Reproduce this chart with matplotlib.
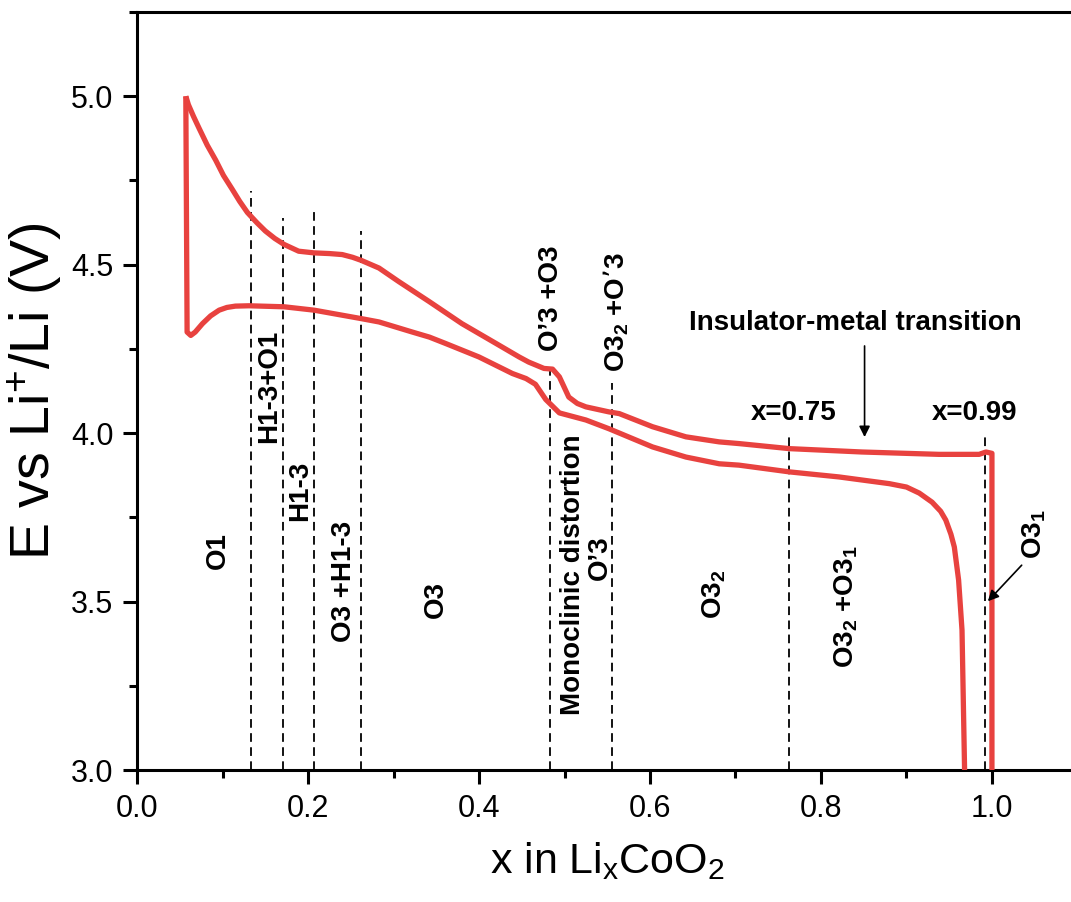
import matplotlib
matplotlib.use("Agg")
import matplotlib.pyplot as plt

plt.rcParams['font.family'] = ['Liberation Sans', 'DejaVu Sans']
plt.rcParams['mathtext.default'] = 'regular'

# charge curve (upper branch), x in LixCoO2 vs E (V)
charge_x = [0.057, 0.060, 0.066, 0.0725, 0.082, 0.092, 0.101, 0.111, 0.120, 0.129,
            0.140, 0.150, 0.161, 0.172, 0.189, 0.207, 0.225, 0.240, 0.252, 0.262,
            0.283, 0.306, 0.342, 0.380, 0.420, 0.447, 0.458, 0.476, 0.486, 0.494,
            0.505, 0.515, 0.525, 0.552, 0.564, 0.603, 0.642, 0.681, 0.704, 0.763,
            0.848, 0.938, 0.985, 0.993, 1.000, 1.000]
charge_e = [5.000, 4.975, 4.940, 4.905, 4.855, 4.810, 4.765, 4.725, 4.688, 4.655,
            4.625, 4.600, 4.578, 4.560, 4.540, 4.535, 4.533, 4.530, 4.522, 4.513,
            4.490, 4.450, 4.390, 4.325, 4.266, 4.226, 4.211, 4.192, 4.190, 4.167,
            4.107, 4.088, 4.078, 4.063, 4.058, 4.019, 3.989, 3.974, 3.969, 3.954,
            3.944, 3.937, 3.937, 3.944, 3.940, 3.000]

# discharge curve (lower branch)
discharge_x = [0.057, 0.0585, 0.0628, 0.068, 0.0765, 0.086, 0.096, 0.105, 0.115, 0.131,
               0.172, 0.207, 0.262, 0.283, 0.322, 0.342, 0.361, 0.400, 0.439, 0.455,
               0.466, 0.478, 0.494, 0.525, 0.552, 0.603, 0.642, 0.681, 0.704, 0.763,
               0.821, 0.880, 0.900, 0.915, 0.930, 0.940, 0.946, 0.952, 0.956, 0.961,
               0.965, 0.968]
discharge_e = [5.000, 4.300, 4.290, 4.300, 4.325, 4.348, 4.365, 4.373, 4.377, 4.378,
               4.375, 4.365, 4.340, 4.330, 4.300, 4.285, 4.266, 4.226, 4.177, 4.162,
               4.145, 4.100, 4.060, 4.039, 4.013, 3.959, 3.929, 3.909, 3.905, 3.885,
               3.870, 3.850, 3.840, 3.822, 3.795, 3.768, 3.742, 3.700, 3.662, 3.564,
               3.415, 3.000]

# dashed phase boundaries: x position and top of line (V)
boundary_x = [0.133, 0.171, 0.207, 0.262, 0.483, 0.555, 0.763, 0.992]
boundary_top = [4.72, 4.64, 4.66, 4.60, 4.20, 4.15, 4.00, 4.00]

# rotated phase labels: text, x, E
phase_labels = ["O1", "H1-3+O1", "H1-3", "O3 +H1-3", "O3", "Monoclinic distortion",
                "O\u20193", "O\u20193 +O3", "O3$_2$ +O\u20193", "O3$_2$",
                "O3$_2$ +O3$_1$", "O3$_1$"]
phase_x = [0.094, 0.154, 0.191, 0.242, 0.350, 0.510, 0.541, 0.484, 0.560, 0.675, 0.829, 1.049]
phase_e = [3.65, 4.14, 3.83, 3.56, 3.505, 3.58, 3.63, 4.40, 4.36, 3.52, 3.485, 3.70]

red = '#e8423f'

fig = plt.figure(figsize=(10.71, 9.02), dpi=100)
ax = fig.add_axes([0.128, 0.1463, 0.878, 0.8404])

ax.plot(charge_x, charge_e, color=red, lw=3.8, solid_joinstyle='round',
        solid_capstyle='butt', zorder=3)
ax.plot(discharge_x, discharge_e, color=red, lw=3.8, solid_joinstyle='round',
        solid_capstyle='butt', zorder=3)

for bx, bt in zip(boundary_x, boundary_top):
    ax.plot([bx, bx], [3.0, bt], color='black', lw=1.3, linestyle=(0, (4.8, 3)), zorder=2)

for t, px, pe in zip(phase_labels, phase_x, phase_e):
    ax.text(px, pe, t, rotation=90, ha='center', va='center', fontsize=20, fontweight='bold')

ax.text(0.8405, 4.326, "Insulator-metal transition", ha='center', va='center',
        fontsize=20, fontweight='bold')
ax.text(0.768, 4.06, "x=0.75", ha='center', va='center', fontsize=20, fontweight='bold')
ax.text(0.980, 4.06, "x=0.99", ha='center', va='center', fontsize=20, fontweight='bold')

ax.annotate("", xy=(0.851, 3.98), xytext=(0.851, 4.267),
            arrowprops=dict(arrowstyle='-|>', lw=1.2, color='black', mutation_scale=16))
ax.annotate("", xy=(0.993, 3.495), xytext=(1.037, 3.614),
            arrowprops=dict(arrowstyle='-|>', lw=1.2, color='black', mutation_scale=16))

ax.set_xlim(0, 1.1)
ax.set_ylim(3.0, 5.25)
ax.set_xticks([0.0, 0.2, 0.4, 0.6, 0.8, 1.0])
ax.set_xticks([0.1, 0.3, 0.5, 0.7, 0.9], minor=True)
ax.set_yticks([3.0, 3.5, 4.0, 4.5, 5.0])
ax.set_yticks([3.25, 3.75, 4.25, 4.75, 5.25], minor=True)
ax.xaxis.set_major_formatter(matplotlib.ticker.FormatStrFormatter('%.1f'))
ax.yaxis.set_major_formatter(matplotlib.ticker.FormatStrFormatter('%.1f'))

for s in ax.spines.values():
    s.set_linewidth(2.2)
ax.tick_params(which='major', direction='out', length=10, width=2.2, labelsize=22, pad=7)
ax.tick_params(which='minor', direction='out', length=5.5, width=2.2)

ax.set_xlabel("x in Li$_x$CoO$_2$", fontsize=31, labelpad=12)
ax.set_ylabel("E vs Li$^{+}$/Li (V)", fontsize=40, labelpad=5)

fig.savefig("out.png", dpi=100)
